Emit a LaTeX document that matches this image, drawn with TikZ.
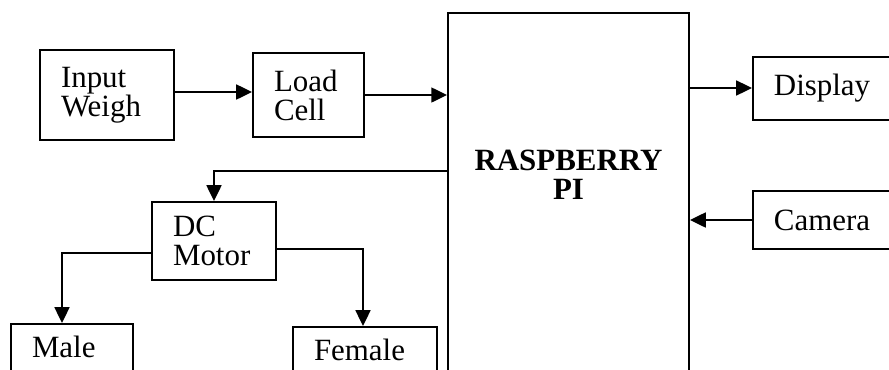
\documentclass[tikz,border=0pt]{standalone}
\usepackage{fontspec}
\setmainfont{Liberation Serif}
\usepackage{tikz}
\usetikzlibrary{arrows.meta, positioning, calc}

\begin{document}
\begin{tikzpicture}[
    x=0.02cm, y=-0.02cm,
    box/.style={rectangle, draw, line width=1.1pt, inner sep=0pt, align=left, font=\fontsize{17.6pt}{16.5pt}\selectfont},
    arrow/.style={-{Triangle[length=9pt,width=8.5pt]}, line width=1.1pt}
]
\clip (0,0) rectangle (889,369);

% Blocks
\node[box, minimum width=2.68cm, minimum height=1.8cm, text width=1.84cm] (in) at (107,95) {Input\\Weigh};
\node[box, minimum width=2.22cm, minimum height=1.68cm, text width=1.38cm] (load) at (308.5,95) {Load\\Cell};
\node[box, anchor=north, minimum width=4.82cm, text width=4.82cm, align=center, text height=3.16cm, text depth=5cm, font=\fontsize{17.6pt}{16.5pt}\selectfont\bfseries] (rpi) at (568.5,12) {RASPBERRY\\PI};
\node[box, anchor=west, minimum width=3cm, minimum height=1.26cm, text width=2.16cm] (disp) at (752,88.5) {Display};
\node[box, anchor=west, minimum width=3cm, minimum height=1.16cm, text width=2.16cm] (cam) at (752,220) {Camera};
\node[box, minimum width=2.48cm, minimum height=1.56cm, text width=1.64cm] (dc) at (214,241) {DC\\Motor};
\node[box, anchor=north, minimum width=2.44cm, text width=1.6cm, text height=0.68cm, text depth=1cm] (male) at (72,323) {Male};
\node[box, anchor=north, minimum width=2.88cm, text width=2.04cm, text height=0.68cm, text depth=1cm] (fem) at (365,326) {Female};

% Connections
\draw[arrow] (in.east |- 0,92) -- (load.west |- 0,92);
\draw[arrow] (load.east) -- (load.east -| rpi.west);
\draw[arrow] (rpi.east |- 0,88) -- (disp.west |- 0,88);
\draw[arrow] (cam.west) -- (cam.west -| rpi.east);
\draw[arrow] (rpi.west |- 0,171) -| (dc.north);
\draw[arrow] (dc.west |- 0,253) -| (male.north -| 62,0);
\draw[arrow] (dc.east |- 0,249) -| (fem.north -| 363,0);

\end{tikzpicture}
\end{document}
